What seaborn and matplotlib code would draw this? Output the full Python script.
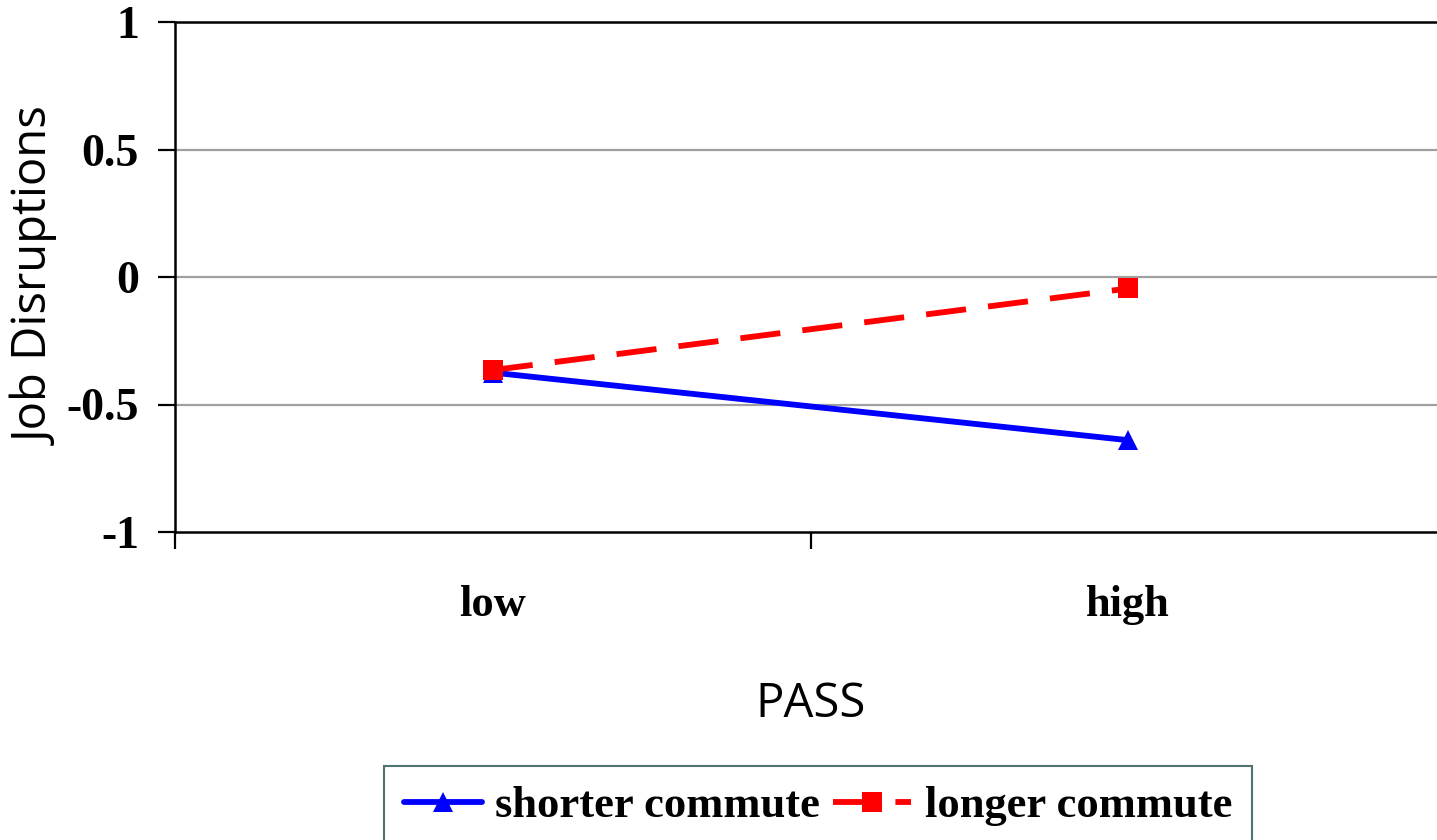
import pandas as pd
import matplotlib
matplotlib.use("Agg")
import matplotlib.pyplot as plt
import seaborn as sns

# values
pass_levels = ["low", "high"]
shorter_vals = [-0.375, -0.64]
longer_vals = [-0.365, -0.045]
series_names = ["shorter commute", "longer commute"]
y_ticks = [-1, -0.5, 0, 0.5, 1]
y_tick_labels = ["-1", "-0.5", "0", "0.5", "1"]

df = pd.DataFrame({
    "PASS": pass_levels * 2,
    "value": shorter_vals + longer_vals,
    "group": [series_names[0]] * 2 + [series_names[1]] * 2,
})

sns.set_style("white")
plt.rcParams["font.family"] = ["Liberation Serif", "DejaVu Serif"]
for k in ["text.color", "axes.labelcolor", "xtick.color", "ytick.color"]:
    plt.rcParams[k] = "black"

fig = plt.figure(figsize=(14.37, 8.4), dpi=100)
ax = fig.add_axes([175 / 1437, 1 - 532 / 840, (1446 - 175) / 1437, 510 / 840])

sns.lineplot(
    data=df, x="PASS", y="value", hue="group", style="group",
    palette={"shorter commute": "#0000ff", "longer commute": "#ff0000"},
    markers={"shorter commute": "^", "longer commute": "s"},
    dashes={"shorter commute": "", "longer commute": (6.9, 3.8)},
    linewidth=4.2, markersize=14, markeredgewidth=0,
    ax=ax, legend=True,
)

ax.set_xlim(-0.5, 1.5)
ax.set_ylim(-1, 1)

# gridlines
for yv in [0.5, 0, -0.5]:
    ax.axhline(yv, color="#a0a0a0", lw=1.6, zorder=0)

ax.set_yticks(y_ticks)
ax.set_yticklabels(y_tick_labels, fontsize=33, fontweight="bold")
ax.set_xticks([-0.5, 0.5, 1.5])
ax.set_xticklabels([])
ax.set_xticks([0, 1], minor=True)
ax.set_xticklabels(pass_levels, minor=True, fontsize=32, fontweight="bold")
ax.tick_params(axis="x", which="minor", length=0, pad=38)
ax.tick_params(axis="x", which="major", length=12, width=1.6, color="black", direction="out", bottom=True)
ax.tick_params(axis="y", length=12, width=1.6, color="black", direction="out", left=True, pad=14)

for side in ["left", "bottom", "top"]:
    ax.spines[side].set_color("black")
    ax.spines[side].set_linewidth(1.8)
ax.spines["right"].set_visible(False)

ax.set_xlabel("PASS", fontsize=34, family="Open Sans", labelpad=40)
ax.set_ylabel("Job Disruptions", fontsize=34, family="Open Sans")
ax.yaxis.set_label_coords(-0.09, 0.5)

handles, labels = ax.get_legend_handles_labels()
ax.legend_.remove()
leg = fig.legend(
    handles, labels, loc="upper center", bbox_to_anchor=(818 / 1437, 1 - 766 / 840),
    ncol=2, frameon=True, fancybox=False, handlelength=1.75, columnspacing=0.3,
    handletextpad=0.3, borderpad=0.45, borderaxespad=0,
    prop={"family": "Liberation Serif", "weight": "bold", "size": 32},
)
leg.get_frame().set_edgecolor("#4f7373")
leg.get_frame().set_linewidth(1.5)
leg.get_frame().set_alpha(1)

fig.savefig("out.png", dpi=100)
